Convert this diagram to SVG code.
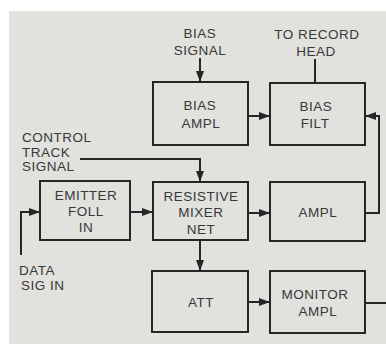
<svg xmlns="http://www.w3.org/2000/svg" width="386" height="344" viewBox="0 0 386 344">
<style>
.box{fill:none;stroke:#262626;stroke-width:2}
.ln{fill:none;stroke:#262626;stroke-width:2}
.arr{marker-end:url(#ah)}
text{font-family:"Liberation Sans",Arial,sans-serif;font-size:13.5px;letter-spacing:0.5px;fill:#383838}
.c{text-anchor:middle}
</style>
<defs>
<marker id="ah" markerUnits="userSpaceOnUse" markerWidth="11" markerHeight="8" refX="11" refY="4" orient="auto">
<path d="M0,0 L11,4 L0,8 z" fill="#262626"/>
</marker>
</defs>
<rect x="0" y="0" width="386" height="344" fill="#ffffff"/>
<rect x="9" y="11" width="377" height="333" fill="#e1e1dd"/>

<g id="label-bias-signal">
<text class="c" x="200" y="38">BIAS</text>
<text class="c" x="200" y="55">SIGNAL</text>
</g>
<g id="label-to-record-head">
<text class="c" x="317" y="39">TO RECORD</text>
<text class="c" x="316" y="56">HEAD</text>
</g>
<g id="label-control-track">
<text x="22" y="142">CONTROL</text>
<text x="22" y="157">TRACK</text>
<text x="22" y="171">SIGNAL</text>
</g>
<g id="label-data-sig-in">
<text x="19" y="275">DATA</text>
<text x="21" y="290">SIG IN</text>
</g>

<g id="bias-ampl">
<rect class="box" x="153" y="82" width="95" height="63"/>
<text class="c" x="200" y="110">BIAS</text>
<text class="c" x="201" y="128">AMPL</text>
</g>
<g id="bias-filt">
<rect class="box" x="270" y="83" width="95" height="62"/>
<text class="c" x="316" y="111">BIAS</text>
<text class="c" x="315" y="128">FILT</text>
</g>
<g id="emitter-foll-in">
<rect class="box" x="40" y="181" width="90" height="59"/>
<text class="c" x="86" y="200">EMITTER</text>
<text class="c" x="86" y="216">FOLL</text>
<text class="c" x="86" y="232">IN</text>
</g>
<g id="resistive-mixer-net">
<rect class="box" x="153" y="182" width="95" height="58"/>
<text class="c" x="201" y="201">RESISTIVE</text>
<text class="c" x="201" y="217">MIXER</text>
<text class="c" x="201" y="234">NET</text>
</g>
<g id="ampl">
<rect class="box" x="270" y="182" width="95" height="59"/>
<text class="c" x="318" y="217">AMPL</text>
</g>
<g id="att">
<rect class="box" x="152" y="271" width="96" height="61"/>
<text class="c" x="201" y="307">ATT</text>
</g>
<g id="monitor-ampl">
<rect class="box" x="270" y="271" width="95" height="62"/>
<text class="c" x="315" y="299">MONITOR</text>
<text class="c" x="318" y="316">AMPL</text>
</g>

<g id="connectors">
<path class="ln arr" d="M200,58 L200,82"/>
<path class="ln" d="M315,59 L315,83"/>
<path class="ln arr" d="M248,116 L270,116"/>
<path class="ln arr" d="M80,159 L200,159 L200,182"/>
<path class="ln arr" d="M21,255 L21,212 L40,212"/>
<path class="ln arr" d="M130,212 L153,212"/>
<path class="ln arr" d="M248,213 L270,213"/>
<path class="ln arr" d="M365,213 L379,213 L379,116 L365,116"/>
<path class="ln arr" d="M200,240 L200,271"/>
<path class="ln arr" d="M248,302 L270,302"/>
<path class="ln" d="M365,303 L386,303"/>
</g>
</svg>
